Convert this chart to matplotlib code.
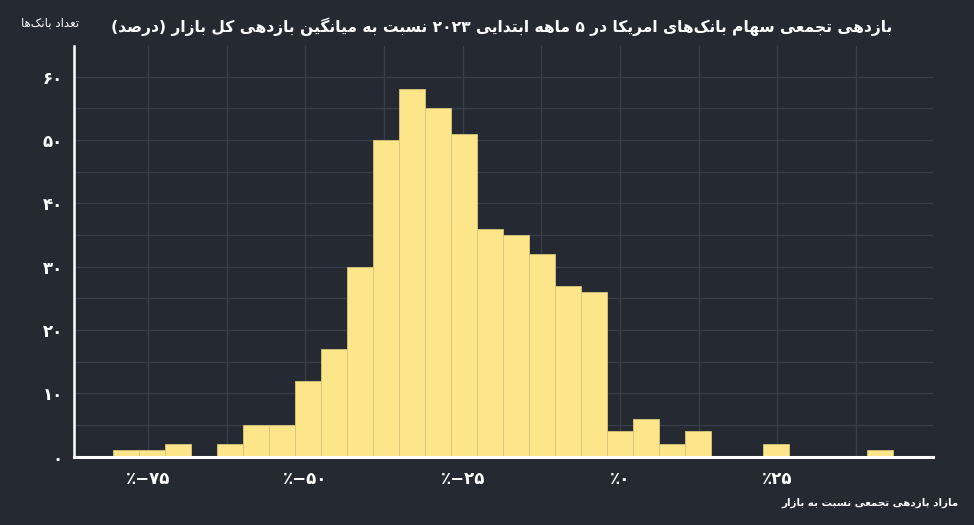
import matplotlib
matplotlib.use('Agg')
import matplotlib.pyplot as plt
from matplotlib.ticker import FixedLocator, FuncFormatter, MultipleLocator

# ---------------- data ----------------
title_text = 'بازدهی تجمعی سهام بانک‌های امریکا در ۵ ماهه ابتدایی ۲۰۲۳ نسبت به میانگین بازدهی کل بازار (درصد)'
ylabel_text = 'تعداد بانک‌ها'
xlabel_text = 'مازاد بازدهی تجمعی نسبت به بازار'

bin_start = -80.5      # percent
bin_width = 4.13       # percent
counts = [1, 1, 2, 0, 2, 5, 5, 12, 17, 30, 50, 58, 55, 51, 36, 35, 32, 27, 26,
          4, 6, 2, 4, 0, 0, 2, 0, 0, 0, 1]
x_ticks = [-75, -50, -25, 0, 25]
y_ticks = [0, 10, 20, 30, 40, 50, 60]

# ------------- minimal Persian shaping (no external libs) -------------
FORMS = {
    'ا': (0xFE8D, 0xFE8E, None, None), 'آ': (0xFE81, 0xFE82, None, None),
    'ب': (0xFE8F, 0xFE90, 0xFE91, 0xFE92), 'پ': (0xFB56, 0xFB57, 0xFB58, 0xFB59),
    'ت': (0xFE95, 0xFE96, 0xFE97, 0xFE98), 'ث': (0xFE99, 0xFE9A, 0xFE9B, 0xFE9C),
    'ج': (0xFE9D, 0xFE9E, 0xFE9F, 0xFEA0), 'چ': (0xFB7A, 0xFB7B, 0xFB7C, 0xFB7D),
    'ح': (0xFEA1, 0xFEA2, 0xFEA3, 0xFEA4), 'خ': (0xFEA5, 0xFEA6, 0xFEA7, 0xFEA8),
    'د': (0xFEA9, 0xFEAA, None, None), 'ذ': (0xFEAB, 0xFEAC, None, None),
    'ر': (0xFEAD, 0xFEAE, None, None), 'ز': (0xFEAF, 0xFEB0, None, None),
    'ژ': (0xFB8A, 0xFB8B, None, None),
    'س': (0xFEB1, 0xFEB2, 0xFEB3, 0xFEB4), 'ش': (0xFEB5, 0xFEB6, 0xFEB7, 0xFEB8),
    'ص': (0xFEB9, 0xFEBA, 0xFEBB, 0xFEBC), 'ض': (0xFEBD, 0xFEBE, 0xFEBF, 0xFEC0),
    'ط': (0xFEC1, 0xFEC2, 0xFEC3, 0xFEC4), 'ظ': (0xFEC5, 0xFEC6, 0xFEC7, 0xFEC8),
    'ع': (0xFEC9, 0xFECA, 0xFECB, 0xFECC), 'غ': (0xFECD, 0xFECE, 0xFECF, 0xFED0),
    'ف': (0xFED1, 0xFED2, 0xFED3, 0xFED4), 'ق': (0xFED5, 0xFED6, 0xFED7, 0xFED8),
    'ک': (0xFB8E, 0xFB8F, 0xFB90, 0xFB91), 'گ': (0xFB92, 0xFB93, 0xFB94, 0xFB95),
    'ل': (0xFEDD, 0xFEDE, 0xFEDF, 0xFEE0), 'م': (0xFEE1, 0xFEE2, 0xFEE3, 0xFEE4),
    'ن': (0xFEE5, 0xFEE6, 0xFEE7, 0xFEE8), 'و': (0xFEED, 0xFEEE, None, None),
    'ه': (0xFEE9, 0xFEEA, 0xFEEB, 0xFEEC), 'ی': (0xFBFC, 0xFBFD, 0xFBFE, 0xFBFF),
}


def _dual(c):
    return c in FORMS and FORMS[c][2] is not None


def rtl(s):
    chars = list(s)
    n = len(chars)
    out = []
    for i, c in enumerate(chars):
        if c == '\u200c':
            continue
        if c not in FORMS:
            out.append(c)
            continue
        prev = chars[i - 1] if i > 0 else ''
        nxt = chars[i + 1] if i + 1 < n else ''
        cp = _dual(prev)
        cn = _dual(c) and nxt in FORMS
        iso, fin, ini, med = FORMS[c]
        if cp and cn:
            g = med
        elif cp:
            g = fin
        elif cn:
            g = ini
        else:
            g = iso
        out.append(chr(g))
    vis = out[::-1]
    mirror = {'(': ')', ')': '('}
    vis = [mirror.get(c, c) for c in vis]
    res, run = [], []
    for c in vis:
        if c.isdigit():
            run.append(c)
        else:
            res.extend(run[::-1])
            run = []
            res.append(c)
    res.extend(run[::-1])
    return ''.join(res)


FA_DIGITS = str.maketrans('0123456789', '۰۱۲۳۴۵۶۷۸۹')


def fa(n):
    return str(int(n)).translate(FA_DIGITS)


# ---------------- style ----------------
BG = '#252932'
GRID = '#393d47'
BAR = '#fde68a'
FONT = ['DejaVu Sans']
plt.rcParams['font.family'] = FONT

fig = plt.figure(figsize=(9.74, 5.25), dpi=100, facecolor=BG)
ax = fig.add_axes([74 / 974, 1 - 456.7 / 525, (932.7 - 74) / 974, (456.7 - 45.7) / 525])
ax.set_facecolor(BG)

lefts = [bin_start + i * bin_width for i in range(len(counts))]
ax.bar(lefts, counts, width=bin_width, align='edge', color=BAR,
       edgecolor='#d8c47c', linewidth=0.6, zorder=2)

ax.set_xlim(-86.76, 49.69)
ax.set_ylim(0, 64.9)

ax.xaxis.set_major_locator(FixedLocator(x_ticks))
ax.xaxis.set_minor_locator(MultipleLocator(12.5))
ax.yaxis.set_major_locator(FixedLocator(y_ticks))
ax.yaxis.set_minor_locator(MultipleLocator(5))


def xfmt(v, pos):
    if v < 0:
        return '٪−' + fa(abs(v))
    return '٪' + fa(v)


ax.xaxis.set_major_formatter(FuncFormatter(xfmt))
ax.yaxis.set_major_formatter(FuncFormatter(lambda v, p: fa(v)))

ax.grid(which='both', color=GRID, linewidth=1.0, zorder=0)
ax.set_axisbelow(True)
ax.tick_params(which='both', length=0, colors='white')
ax.tick_params(axis='x', pad=9.5, labelsize=12)
ax.tick_params(axis='y', pad=8, labelsize=12)
for lab in ax.get_xticklabels() + ax.get_yticklabels():
    lab.set_fontweight('bold')

for side in ['top', 'right']:
    ax.spines[side].set_visible(False)
ax.spines['left'].set_color('white')
ax.spines['left'].set_linewidth(1.8)
ax.spines['bottom'].set_color('white')
ax.spines['bottom'].set_linewidth(2.2)
ax.spines['bottom'].set_zorder(5)

fig.text(892 / 974, 1 - 27 / 525, rtl(title_text), ha='right', va='center',
         color='white', fontsize=11.2, fontweight='bold')
fig.text(79 / 974, 1 - 23 / 525, rtl(ylabel_text), ha='right', va='center',
         color='white', fontsize=8.5)
fig.text(959 / 974, 1 - 503 / 525, rtl(xlabel_text), ha='right', va='center',
         color='white', fontsize=7.5, fontweight='bold')

fig.savefig('out.png', dpi=100, facecolor=BG)
